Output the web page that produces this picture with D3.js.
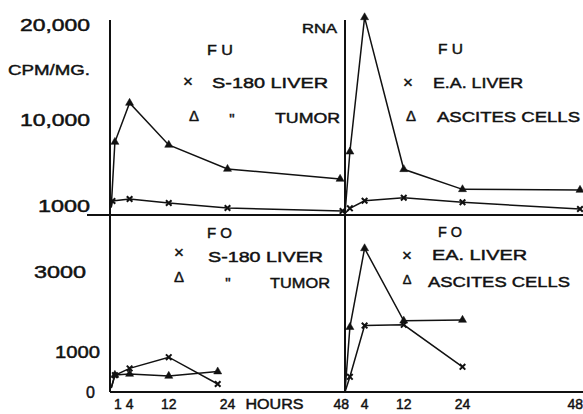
<!DOCTYPE html>
<html>
<head>
<meta charset="utf-8">
<script src="https://cdn.jsdelivr.net/npm/d3@7"></script>
<style>
  html, body { margin: 0; padding: 0; background: #fff; }
  svg { display: block; }
  text { font-family: "Liberation Sans", Arial, sans-serif; fill: #111; stroke: #111; stroke-width: 0.45px; }
</style>
</head>
<body>
<div id="chart"></div>
<script>
// Hours on the x axis (both panels share the same 0-48 h scale)
const hourTicksLeft = [1, 4, 12, 24, 48];
const hourTicksRight = [4, 12, 24, 48];

// Y tick labels
const rnaTicks = [20000, 10000, 1000];
const rnaTickLabels = ['20,000', '10,000', '1000'];
const foTicks = [3000, 1000, 0];
const foTickLabels = ['3000', '1000', '0'];

// FU, S-180 (upper left)
const fuS180LiverHours = [0.25, 0.5, 4, 12, 24, 47.5];
const fuS180Liver = [800, 1470, 1680, 1260, 740, 420];
const fuS180TumorHours = [0.25, 1, 4, 12, 24, 47];
const fuS180Tumor = [800, 7680, 11790, 7370, 4840, 3790];

// FU, E.A. (upper right)
const fuEAHours = [0, 1, 4, 12, 24, 48];
const fuEALiver = [150, 700, 1500, 1820, 1340, 630];
const fuAscites = [150, 6660, 20800, 4810, 2700, 2630];

// FO, S-180 (lower left)
const foS180Hours = [0.25, 1, 4, 12, 22];
const foS180Liver = [100, 420, 590, 870, 200];
const foS180Tumor = [100, 425, 450, 400, 510];

// FO, E.A. (lower right)
const foEAHours = [0, 1, 4, 12, 24];
const foEALiver = [0, 380, 1660, 1680, 630];
const foAscites = [0, 1620, 3590, 1780, 1800];

const width = 583, height = 414;
const svg = d3.select('#chart').append('svg')
  .attr('width', width).attr('height', height);

const xLeft = d3.scaleLinear().domain([0, 48]).range([110, 345]);
const xRight = d3.scaleLinear().domain([0, 48]).range([345, 580]);
const yTop = d3.scaleLinear().domain([0, 20000]).range([215, 25]);
const yBot = d3.scaleLinear().domain([0, 3000]).range([392, 272]);

// frame lines
const frame = svg.append('g').attr('stroke', '#111').attr('stroke-width', 2);
frame.append('line').attr('x1', 110).attr('x2', 110).attr('y1', 20).attr('y2', yBot(0));
frame.append('line').attr('x1', 345).attr('x2', 345).attr('y1', 20).attr('y2', yBot(0));
frame.append('line').attr('x1', 87).attr('x2', width).attr('y1', yTop(0)).attr('y2', yTop(0));
frame.append('line').attr('x1', 110).attr('x2', width).attr('y1', yBot(0)).attr('y2', yBot(0));

// helper for text with a fixed width
function label(txt, x, y, size, w, anchor) {
  const t = svg.append('text')
    .attr('x', x).attr('y', y)
    .attr('font-size', size)
    .attr('text-anchor', anchor || 'start')
    .text(txt);
  if (w) t.attr('textLength', w).attr('lengthAdjust', 'spacingAndGlyphs');
  return t;
}

// y tick labels
rnaTicks.forEach((v, i) => {
  label(rnaTickLabels[i], 90, yTop(v) + 6, 16, i === 2 ? 52 : 70, 'end');
});
const foEnd = [86, 100, 95];
foTicks.forEach((v, i) => {
  label(foTickLabels[i], foEnd[i], yBot(v) + 6, 16, i === 0 ? 52 : (i === 1 ? 45 : 0), 'end');
});
label('CPM/MG.', 8, 75, 15, 82);

// x tick labels
const tickY = 409;
hourTicksLeft.forEach(h => {
  const x = h === 48 ? xLeft(h) + 4 : xLeft(h) + (h === 1 ? 3 : 0);
  label(String(h), x, tickY, 14, null, h === 48 ? 'end' : 'middle');
});
hourTicksRight.forEach(h => {
  const x = h === 48 ? xRight(h) + 3 : xRight(h);
  label(String(h), x, tickY, 14, null, h === 48 ? 'end' : 'middle');
});
label('HOURS', xLeft(24) + 18, tickY, 14, 58);

// panel titles / legends
label('RNA', 302, 33, 13, 35);
label('F U', 207, 55, 15, 26);
label('×', 188, 87, 17, null, 'middle');
label('S-180 LIVER', 212, 88, 15, 116);
label('Δ', 194, 121, 15, null, 'middle');
label('"', 232, 124, 15, null, 'middle');
label('TUMOR', 275, 123, 15, 65);

label('F U', 438, 54, 15, 25);
label('×', 408, 88, 17, null, 'middle');
label('E.A. LIVER', 433, 88, 15, 90);
label('Δ', 411, 121, 15, null, 'middle');
label('ASCITES CELLS', 437, 122, 15, 143);

label('F O', 207, 238, 15, 25);
label('×', 179, 258, 17, null, 'middle');
label('S-180 LIVER', 208, 262, 15, 115);
label('Δ', 179, 282, 15, null, 'middle');
label('"', 228, 288, 15, null, 'middle');
label('TUMOR', 270, 288, 15, 60);

label('F O', 438, 237, 15, 24);
label('×', 407, 261, 17, null, 'middle');
label('EA. LIVER', 432, 260, 15, 95);
label('Δ', 407, 284, 13, null, 'middle');
label('ASCITES CELLS', 428, 287, 15, 142);

// series
function series(hours, values, xs, ys, kind) {
  const pts = hours.map((h, i) => [xs(h), ys(values[i])]);
  svg.append('path')
    .attr('d', d3.line()(pts))
    .attr('fill', 'none')
    .attr('stroke', '#111')
    .attr('stroke-width', 1.5);
  const sym = kind === 'tri'
    ? d3.symbol().type(d3.symbolTriangle).size(28)
    : d3.symbol().type(d3.symbolX).size(22);
  svg.append('g').selectAll('path')
    .data(pts.slice(1))
    .join('path')
    .attr('transform', d => `translate(${d[0]},${d[1]})`)
    .attr('d', sym())
    .attr('fill', '#111')
    .attr('stroke', '#111')
    .attr('stroke-width', kind === 'tri' ? 0.5 : 2);
}

series(fuS180LiverHours, fuS180Liver, xLeft, yTop, 'x');
series(fuS180TumorHours, fuS180Tumor, xLeft, yTop, 'tri');
series(fuEAHours, fuEALiver, xRight, yTop, 'x');
series(fuEAHours, fuAscites, xRight, yTop, 'tri');
series(foS180Hours, foS180Liver, xLeft, yBot, 'x');
series(foS180Hours, foS180Tumor, xLeft, yBot, 'tri');
series(foEAHours, foEALiver, xRight, yBot, 'x');
series(foEAHours, foAscites, xRight, yBot, 'tri');
</script>
</body>
</html>
